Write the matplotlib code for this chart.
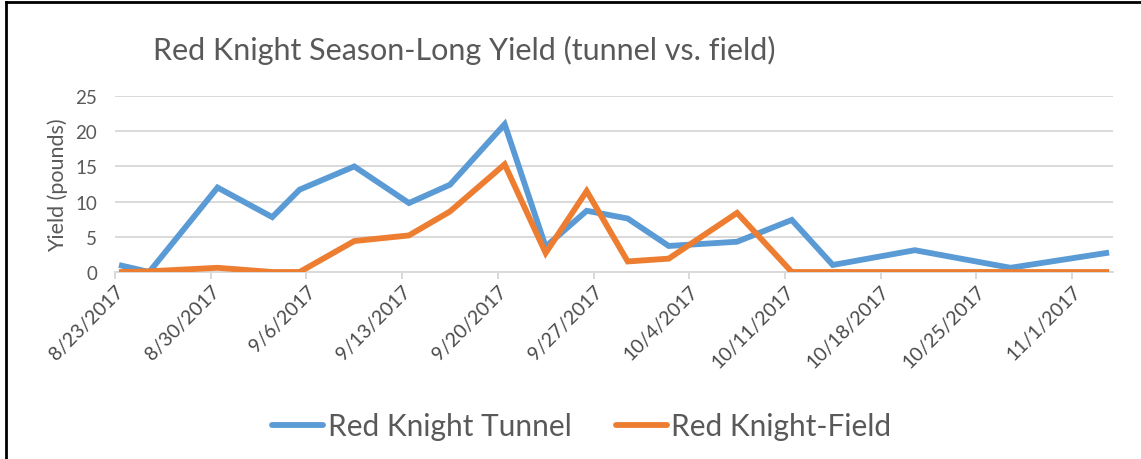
import datetime as dt

import matplotlib

matplotlib.use("Agg")

import matplotlib.dates as mdates
import matplotlib.pyplot as plt
from matplotlib.lines import Line2D
from matplotlib.ticker import FuncFormatter

# harvest dates and yields (pounds)
harvest_dates = [
    "2017-08-23", "2017-08-25", "2017-08-30", "2017-09-03", "2017-09-05",
    "2017-09-09", "2017-09-13", "2017-09-16", "2017-09-20", "2017-09-23",
    "2017-09-26", "2017-09-29", "2017-10-02", "2017-10-07", "2017-10-11",
    "2017-10-14", "2017-10-20", "2017-10-27", "2017-11-03",
]
tunnel_yield = [
    0.9, 0.0, 12.0, 7.8, 11.7,
    15.0, 9.8, 12.4, 21.0, 3.6,
    8.7, 7.6, 3.7, 4.3, 7.4,
    1.0, 3.1, 0.6, 2.7,
]
field_yield = [
    0.0, 0.1, 0.6, 0.0, 0.0,
    4.4, 5.2, 8.6, 15.3, 2.7,
    11.5, 1.5, 1.9, 8.4, 0.0,
    0.0, 0.0, 0.0, 0.0,
]
tick_dates = [
    "2017-08-23", "2017-08-30", "2017-09-06", "2017-09-13", "2017-09-20",
    "2017-09-27", "2017-10-04", "2017-10-11", "2017-10-18", "2017-10-25",
    "2017-11-01",
]
y_ticks = [0, 5, 10, 15, 20, 25]

BLUE = "#5B9BD5"
ORANGE = "#ED7D31"
GRID = "#D9D9D9"
TEXT = "#595959"
LW = 4.2

plt.rcParams["font.family"] = ["Lato", "DejaVu Sans"]


def to_day(s):
    return dt.datetime.strptime(s, "%Y-%m-%d")


# excel places each point in the middle of its day slot
x_points = [to_day(d) + dt.timedelta(hours=12) for d in harvest_dates]
x_ticks = [to_day(d) for d in tick_dates]

fig = plt.figure(figsize=(11.41, 4.60), dpi=100)
ax = fig.add_axes([0.1008, 0.4065, 0.8747, 0.3825])

ax.plot(x_points, tunnel_yield, color=BLUE, lw=LW, solid_joinstyle="miter",
        zorder=3)
ax.plot(x_points, field_yield, color=ORANGE, lw=LW, solid_joinstyle="miter",
        zorder=3)

ax.set_xlim(to_day("2017-08-23"), to_day("2017-11-04"))
ax.set_ylim(0, 25)
ax.set_yticks(y_ticks)
ax.set_xticks(x_ticks)
ax.xaxis.set_major_formatter(
    FuncFormatter(lambda v, _: "{0.month}/{0.day}/{0.year}".format(mdates.num2date(v)))
)

ax.grid(axis="y", color=GRID, lw=1.4)
ax.set_axisbelow(True)
for side in ["top", "right", "left"]:
    ax.spines[side].set_visible(False)
ax.spines["bottom"].set_color(GRID)
ax.spines["bottom"].set_linewidth(1.4)

ax.tick_params(axis="y", length=0, labelsize=13.5, labelcolor=TEXT, pad=13)
ax.tick_params(axis="x", length=5, width=1.4, color=GRID, labelsize=14,
               labelcolor="#4a4a4a", pad=2)
for lab in ax.get_xticklabels():
    lab.set_rotation(45)
    lab.set_ha("right")
    lab.set_rotation_mode("anchor")

ax.set_ylabel("Yield (pounds)", fontsize=15.5, color=TEXT, labelpad=5)

fig.text(153 / 1141, 1 - 50 / 460, "Red Knight Season-Long Yield (tunnel vs. field)",
         fontsize=22, color=TEXT, ha="left", va="center")

handles = [
    Line2D([], [], color=BLUE, lw=LW, solid_capstyle="round"),
    Line2D([], [], color=ORANGE, lw=LW, solid_capstyle="round"),
]
fig.legend(handles, ["Red Knight Tunnel", "Red Knight-Field"],
           loc="center", bbox_to_anchor=(582 / 1141, 1 - 427 / 460), ncol=2,
           frameon=False, fontsize=21.5, labelcolor=TEXT, handlelength=1.7,
           handletextpad=0.15, columnspacing=1.5)

# border on the left and top edges, as in the source
fig.add_artist(Line2D([6 / 1141, 6 / 1141], [0, 1 - 3 / 460], color="black", lw=2))
fig.add_artist(Line2D([6 / 1141, 1], [1 - 3 / 460, 1 - 3 / 460], color="black", lw=2))

fig.savefig("out.png", dpi=100)
